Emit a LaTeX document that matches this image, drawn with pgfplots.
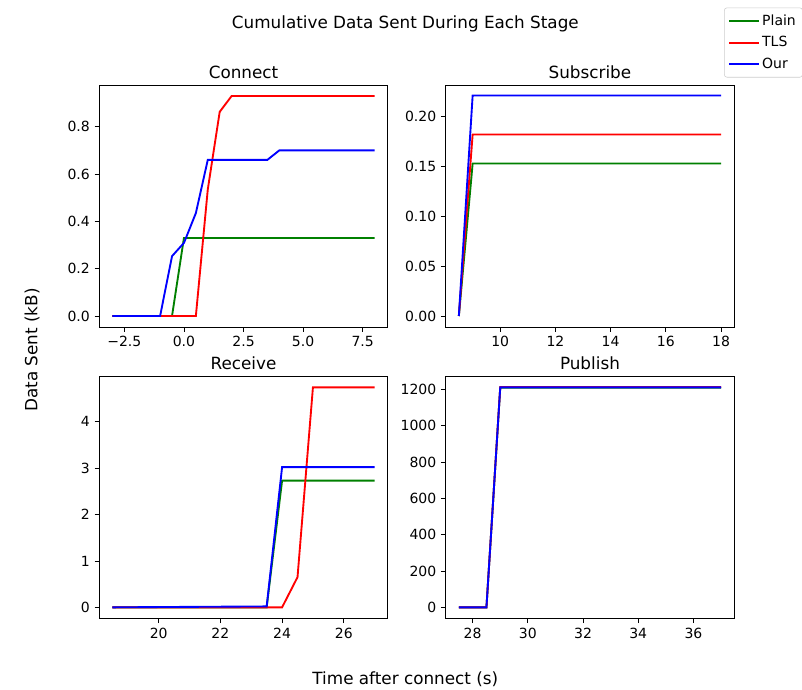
\documentclass[border=0pt]{standalone}
\usepackage{fontspec}
\setmainfont{DejaVu Sans}
\usepackage{pgfplots}
\pgfplotsset{compat=1.18}
\definecolor{cPlain}{HTML}{008000}
\definecolor{cTLS}{HTML}{FF0000}
\definecolor{cOur}{HTML}{0000FF}

\pgfplotsset{
  stage/.style={
    scale only axis, width=216.3pt, height=181.5pt,
    tick pos=left, tick align=outside, major tick length=3.6pt,
    axis line style={line width=0.6pt},
    every tick/.style={black, line width=0.6pt},
    tick label style={font=\fontsize{10.5}{12}\selectfont},
    /pgf/number format/assume math mode=true,
    /pgf/number format/1000 sep={},
    scaled ticks=false,
    title style={font=\fontsize{12.6}{14}\selectfont, at={(0.5,1)}, anchor=base, yshift=-0.8pt},
    every axis plot/.append style={line width=1.4pt},
  },
}

\begin{document}
\begin{tikzpicture}
\useasboundingbox (0,0) rectangle (601.5pt,516.75pt);

% ---- Connect ----
\begin{axis}[stage, at={(74.5pt,271.5pt)}, anchor=south west,
    title={Connect},
    xmin=-3.55, xmax=8.55, ymin=-0.0465, ymax=0.9765,
    xtick={-2.5,0,2.5,5,7.5}, xticklabels={−2.5,0.0,2.5,5.0,7.5},
    ytick={0,0.2,0.4,0.6,0.8},
    yticklabel style={/pgf/number format/.cd, fixed, fixed zerofill, precision=1},
]
\addplot[cPlain] coordinates {(-3,0) (-0.5,0) (0,0.33) (8,0.33)};
\addplot[cTLS] coordinates {(-3,0) (0.5,0) (1,0.535) (1.5,0.863) (2,0.93) (8,0.93)};
\addplot[cOur] coordinates {(-3,0) (-1,0) (-0.5,0.253) (0,0.309) (0.5,0.435) (1,0.66) (3.5,0.66) (4,0.70) (8,0.70)};
\end{axis}

% ---- Subscribe ----
\begin{axis}[stage, at={(334.3pt,271.5pt)}, anchor=south west,
    title={Subscribe},
    xmin=8.025, xmax=18.475, ymin=-0.011, ymax=0.231,
    xtick={10,12,14,16,18},
    ytick={0,0.05,0.10,0.15,0.20},
    yticklabel style={/pgf/number format/.cd, fixed, fixed zerofill, precision=2},
    legend style={at={(0.965,1.32)}, anchor=north west, draw=black!20,
        rounded corners=2pt, font=\fontsize{10.5}{12}\selectfont,
        row sep=3pt, inner sep=3pt},
    legend cell align=left,
    legend image code/.code={\draw plot coordinates {(0pt,0pt) (22pt,0pt)};},
]
\addplot[cPlain] coordinates {(8.5,0) (9,0.1525) (18,0.1525)};
\addplot[cTLS] coordinates {(8.5,0) (9,0.1815) (18,0.1815)};
\addplot[cOur] coordinates {(8.5,0) (9,0.2205) (18,0.2205)};
\legend{Plain,TLS,Our}
\end{axis}

% ---- Receive ----
\begin{axis}[stage, at={(74.5pt,53pt)}, anchor=south west,
    title={Receive},
    xmin=18.075, xmax=27.425, ymin=-0.237, ymax=4.977,
    xtick={20,22,24,26}, ytick={0,1,2,3,4},
]
\addplot[cPlain] coordinates {(18.5,0) (23.5,0) (24,2.73) (27,2.73)};
\addplot[cTLS] coordinates {(18.5,0) (24,0) (24.5,0.65) (25,4.74) (27,4.74)};
\addplot[cOur] coordinates {(18.5,0) (23.5,0.02) (24,3.02) (27,3.02)};
\end{axis}

% ---- Publish ----
\begin{axis}[stage, at={(334.3pt,53pt)}, anchor=south west,
    title={Publish},
    xmin=27.025, xmax=37.475, ymin=-60.6, ymax=1272.6,
    xtick={28,30,32,34,36}, ytick={0,200,400,600,800,1000,1200},
]
\addplot[cPlain] coordinates {(27.5,0) (28.5,0) (29,1210) (37,1210)};
\addplot[cTLS] coordinates {(27.5,0) (28.5,0) (29,1214) (37,1214)};
\addplot[cOur] coordinates {(27.5,0) (28.5,0) (29,1212) (37,1212)};
\end{axis}

% ---- figure-level texts ----
\node[anchor=base, font=\fontsize{12.6}{14}\selectfont] at (304pt,495pt) {Cumulative Data Sent During Each Stage};
\node[anchor=base, font=\fontsize{12.6}{14}\selectfont] at (304pt,3.75pt) {Time after connect (s)};
\node[rotate=90, font=\fontsize{12.6}{14}\selectfont] at (24pt,254.25pt) {Data Sent (kB)};
\end{tikzpicture}
\end{document}
